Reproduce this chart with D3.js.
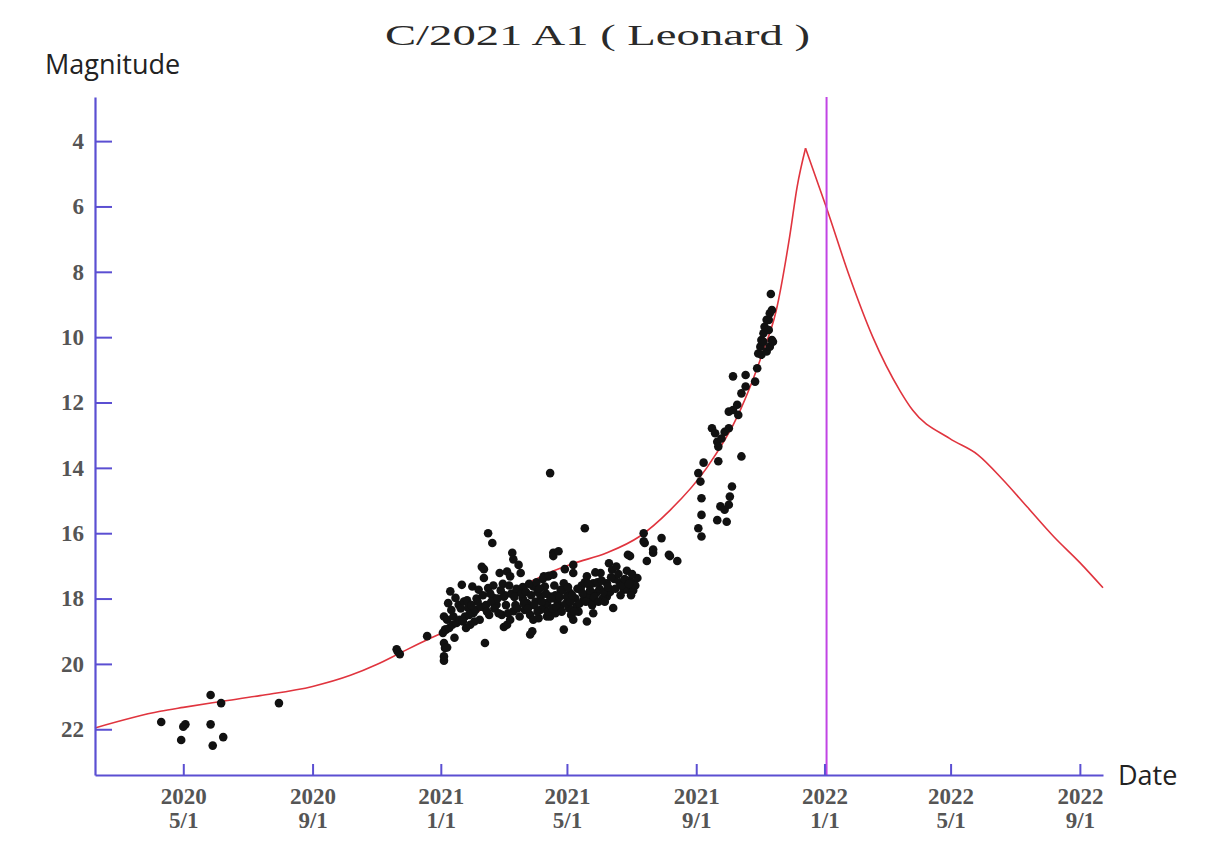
<!DOCTYPE html>
<html>
<head>
<meta charset="utf-8">
<script src="https://cdn.jsdelivr.net/npm/d3@7"></script>
<style>
  html, body { margin: 0; padding: 0; background: #fff; }
  svg { display: block; }
</style>
</head>
<body>
<svg id="chart" width="1225" height="854"></svg>
<script>
// ---------------- DATA ----------------
const titleText = "C/2021 A1 ( Leonard )";
const yLabel = "Magnitude";
const xLabel = "Date";

const yTicks = [4, 6, 8, 10, 12, 14, 16, 18, 20, 22];
const xTickDates = ["2020-05-01", "2020-09-01", "2021-01-01", "2021-05-01", "2021-09-01", "2022-01-01", "2022-05-01", "2022-09-01"];
const xTickYears = ["2020", "2020", "2021", "2021", "2021", "2022", "2022", "2022"];
const xTickDays = ["5/1", "9/1", "1/1", "5/1", "9/1", "1/1", "5/1", "9/1"];

const markerDate = "2022-01-03";

// predicted light curve
const curveDates = ["2020-02-07", "2020-04-09", "2020-05-01", "2020-06-06", "2020-07-13", "2020-09-01", "2020-10-07", "2020-11-01", "2020-11-23", "2020-12-19",
  "2021-01-01", "2021-02-26", "2021-04-15", "2021-05-07", "2021-06-08", "2021-07-09", "2021-08-07", "2021-09-11", "2021-10-12", "2021-11-03",
  "2021-11-16", "2021-11-29", "2021-12-06", "2021-12-14", "2022-01-03", "2022-01-25", "2022-02-16", "2022-03-14", "2022-03-26",
  "2022-04-30", "2022-05-27", "2022-06-20", "2022-07-13", "2022-08-07", "2022-09-01", "2022-09-23"];
const curveMags = [21.96, 21.45, 21.33, 21.15, 20.97, 20.69, 20.35, 20.02, 19.67, 19.26,
  19.07, 18.0, 17.2, 16.93, 16.6, 16.1, 15.3, 14.0, 12.3, 10.5,
  9.2, 6.9, 5.4, 4.22, 6.05, 8.16, 10.0, 11.65, 12.24,
  13.1, 13.6, 14.37, 15.2, 16.1, 16.9, 17.67];

// observations
const obsDates = [
  "2020-04-10", "2020-05-03", "2020-05-01", "2020-04-29", "2020-05-27", "2020-06-06", "2020-05-27", "2020-06-08", "2020-05-29", "2020-07-31",
  "2020-11-20", "2020-11-23", "2020-11-21", "2020-12-19",
  "2021-01-04", "2021-01-04", "2021-01-05", "2021-01-04", "2021-01-07", "2021-01-04", "2021-01-07", "2021-01-05", "2021-01-08", "2021-01-10",
  "2021-01-13", "2021-01-15", "2021-01-18", "2021-01-21", "2021-01-23", "2021-01-27", "2021-01-31", "2021-02-01", "2021-02-06", "2021-02-07",
  "2021-02-09", "2021-02-11", "2021-02-11", "2021-02-12", "2021-02-12", "2021-02-15", "2021-02-15", "2021-02-19", "2021-02-20", "2021-02-23",
  "2021-02-26", "2021-02-28", "2021-03-02", "2021-03-02", "2021-03-05", "2021-03-05", "2021-03-08", "2021-03-08", "2021-03-10", "2021-03-11",
  "2021-03-11", "2021-03-16", "2021-03-16", "2021-03-18", "2021-03-24", "2021-03-27", "2021-03-27", "2021-03-29", "2021-03-30", "2021-03-30",
  "2021-04-06", "2021-04-06", "2021-04-09", "2021-04-09", "2021-04-10", "2021-04-12", "2021-04-12", "2021-04-13", "2021-04-15", "2021-04-15",
  "2021-04-15", "2021-04-18", "2021-04-18", "2021-04-18", "2021-04-23", "2021-04-25", "2021-04-25", "2021-04-28", "2021-04-28", "2021-05-04",
  "2021-05-07", "2021-05-07", "2021-05-07", "2021-05-10", "2021-05-14", "2021-05-17", "2021-05-18", "2021-05-20", "2021-05-26", "2021-05-26",
  "2021-05-29", "2021-06-02", "2021-06-08", "2021-06-08", "2021-06-10", "2021-06-13", "2021-06-14", "2021-06-17", "2021-06-24", "2021-06-27",
  "2021-06-28", "2021-06-28", "2021-06-30", "2021-06-30", "2021-07-03", "2021-07-03", "2021-07-07", "2021-07-13", "2021-07-13", "2021-07-14",
  "2021-07-16", "2021-07-22", "2021-07-22", "2021-07-30", "2021-08-06", "2021-08-07", "2021-08-14",
  "2021-09-03", "2021-09-06", "2021-09-06", "2021-09-06", "2021-09-03", "2021-09-05", "2021-09-08", "2021-09-16", "2021-09-19", "2021-09-21",
  "2021-09-21", "2021-09-22", "2021-09-22", "2021-09-24", "2021-09-25", "2021-09-28", "2021-09-28", "2021-09-30", "2021-10-02", "2021-10-02",
  "2021-10-02", "2021-10-03", "2021-10-05", "2021-10-06", "2021-10-06", "2021-10-10", "2021-10-11", "2021-10-14", "2021-10-14", "2021-10-18",
  "2021-10-18", "2021-10-27", "2021-10-29", "2021-10-30", "2021-11-01", "2021-11-02", "2021-11-02", "2021-11-04", "2021-11-04", "2021-11-05",
  "2021-11-07", "2021-11-07", "2021-11-09", "2021-11-09", "2021-11-10", "2021-11-10", "2021-11-12", "2021-11-12", "2021-11-13", "2021-11-11",
  "2021-01-03", "2021-01-06", "2021-01-09", "2021-01-12", "2021-01-16", "2021-01-19", "2021-01-24", "2021-01-28", "2021-02-03", "2021-02-08",
  "2021-02-13", "2021-02-18", "2021-02-24", "2021-03-03", "2021-03-09", "2021-03-14", "2021-03-20", "2021-03-26", "2021-04-02", "2021-04-08",
  "2021-04-14",
  "2021-01-20", "2021-02-04", "2021-03-01", "2021-02-20", "2021-03-20", "2021-04-01", "2021-04-03", "2021-04-20", "2021-04-22", "2021-05-01",
  "2021-05-03", "2021-05-09", "2021-05-12", "2021-05-15", "2021-05-22", "2021-05-24", "2021-06-01", "2021-06-04", "2021-06-11", "2021-06-20",
  "2021-06-21", "2021-07-01", "2021-07-05", "2021-06-15", "2021-05-28", "2021-05-18", "2021-04-29",
  "2021-01-14", "2021-01-25", "2021-02-02", "2021-02-16", "2021-03-13", "2021-03-22", "2021-04-04", "2021-04-20", "2021-05-05", "2021-05-20",
  "2021-02-05", "2021-02-10", "2021-02-14", "2021-02-17", "2021-02-21", "2021-02-25", "2021-02-27",
  "2021-03-04", "2021-03-06", "2021-03-07", "2021-03-12", "2021-03-15", "2021-03-17", "2021-03-19", "2021-03-21", "2021-03-23", "2021-03-25",
  "2021-03-28", "2021-03-31",
  "2021-04-03", "2021-04-05", "2021-04-07", "2021-04-11", "2021-04-13", "2021-04-16", "2021-04-17", "2021-04-19", "2021-04-21", "2021-04-24",
  "2021-04-26", "2021-04-27", "2021-04-30",
  "2021-05-02", "2021-05-04", "2021-05-06", "2021-05-08", "2021-05-11", "2021-05-13", "2021-05-16", "2021-05-19", "2021-05-21", "2021-05-23",
  "2021-05-25", "2021-05-27", "2021-05-30", "2021-05-31",
  "2021-06-03", "2021-06-05", "2021-06-06", "2021-06-09", "2021-06-12", "2021-06-16", "2021-06-19", "2021-06-22", "2021-06-25", "2021-06-29",
  "2021-07-02",
  "2021-01-11", "2021-01-22", "2021-01-26", "2021-01-29", "2021-01-30"
];
const obsMags = [
  21.78, 21.85, 21.92, 22.33, 20.95, 21.2, 21.85, 22.24, 22.5, 21.2,
  19.55, 19.7, 19.62, 19.15,
  19.9, 19.36, 19.51, 19.77, 19.5, 18.55, 18.65, 18.95, 18.14, 17.78,
  18.55, 17.98, 18.19, 17.58, 18.09, 18.29, 17.63, 18.44, 17.73, 18.65,
  17.03, 17.37, 17.1, 18.29, 19.36, 16.0, 17.68, 16.3, 17.98, 18.19,
  17.22, 18.5, 17.94, 18.87, 17.17, 18.8, 17.32, 18.65, 16.6, 16.8,
  18.39, 16.97, 17.78, 17.22, 18.14, 18.5, 19.1, 19.0, 18.65, 17.63,
  17.94, 18.34, 18.29, 17.32, 17.63, 18.55, 18.14, 17.32, 14.16, 17.94,
  18.55, 16.6, 16.7, 17.27, 16.55, 17.73, 18.24, 17.53, 18.95, 17.83,
  16.97, 17.22, 18.65, 18.24, 17.73, 18.04, 15.85, 17.32, 17.53, 18.45,
  17.83, 17.22, 17.53, 17.94, 16.92, 17.12, 18.29, 17.02, 17.73, 17.15,
  16.66, 17.73, 16.7, 17.45, 17.52, 17.75, 17.37, 16.0, 16.25, 16.3,
  16.85, 16.6, 16.5, 16.15, 16.66, 16.7, 16.85,
  15.85, 16.1, 15.44, 14.93, 14.16, 14.42, 13.84, 12.79, 12.94, 13.2,
  15.6, 13.8, 13.35, 15.18, 13.1, 12.9, 15.28, 15.65, 12.79, 12.28,
  15.13, 14.88, 14.57, 12.23, 11.2, 12.07, 12.38, 11.72, 13.65, 11.51,
  11.16, 11.36, 10.95, 10.5, 10.29, 10.09, 10.54, 9.88, 10.14, 9.68,
  9.47, 10.44, 9.47, 9.78, 9.27, 10.29, 9.17, 10.09, 10.14, 8.68,
  19.05, 18.95, 18.9, 18.8, 18.75, 18.65, 18.55, 18.5, 18.35, 18.25,
  18.2, 18.1, 18.0, 17.9, 17.85, 17.7, 17.65, 17.55, 17.5, 17.4,
  17.3,
  18.3, 18.0, 17.55, 17.6, 18.0, 18.1, 17.8, 17.9, 18.1, 17.95,
  18.3, 18.0, 18.4, 17.6, 17.9, 18.1, 17.7, 18.0, 17.8, 17.5,
  17.9, 17.9, 17.6, 17.4, 17.2, 17.5, 17.1,
  19.2, 18.9, 18.7, 18.5, 18.2, 18.35, 18.6, 18.45, 18.5, 18.7,
  18.1, 17.9, 18.4, 17.85, 18.3, 18.45, 17.75,
  18.2, 18.45, 17.6, 17.95, 18.3, 18.55, 17.85, 18.15, 17.8, 18.3,
  17.9, 18.2,
  18.4, 17.7, 18.1, 17.85, 18.4, 18.0, 18.3, 17.6, 18.25, 17.95,
  18.4, 17.75, 18.15,
  17.65, 18.1, 17.9, 18.4, 17.7, 18.15, 17.85, 18.1, 17.55, 17.75,
  18.2, 17.95, 17.5, 18.1,
  17.45, 17.8, 18.1, 17.65, 17.35, 17.7, 17.25, 17.6, 17.4, 17.55,
  17.25,
  18.35, 18.7, 18.05, 18.8, 18.2
];

// ---------------- DRAW ----------------
const parse = d3.utcParse("%Y-%m-%d");
const svg = d3.select("#chart");

const x = d3.scaleUtc()
  .domain([parse("2020-02-07"), parse("2022-09-23")])
  .range([95, 1103]);
const y = d3.scaleLinear()
  .domain([2.65, 23.4])
  .range([97, 775]);

const axisColor = "#5b4fd2";

// title
svg.append("text")
  .attr("x", 385).attr("y", 45)
  .attr("textLength", 425).attr("lengthAdjust", "spacingAndGlyphs")
  .style("font-family", "'Liberation Serif', 'DejaVu Serif', serif")
  .style("font-size", "30px")
  .style("fill", "#2a2a2a")
  .text(titleText);

svg.append("text")
  .attr("x", 45).attr("y", 74)
  .style("font-family", "'Open Sans', sans-serif")
  .style("font-size", "27px")
  .style("fill", "#222")
  .text(yLabel);

svg.append("text")
  .attr("x", 1118).attr("y", 785)
  .style("font-family", "'Open Sans', sans-serif")
  .style("font-size", "27px")
  .style("fill", "#222")
  .text(xLabel);

// predicted curve: drawn as rising and fading branches sharing the peak point
const curvePts = curveDates.map((d, i) => [parse(d), curveMags[i]]);
const peakIdx = d3.minIndex(curveMags);
const lineGen = d3.line().x(d => x(d[0])).y(d => y(d[1])).curve(d3.curveMonotoneX);
[curvePts.slice(0, peakIdx + 1), curvePts.slice(peakIdx)].forEach(seg => {
  svg.append("path")
    .datum(seg)
    .attr("fill", "none")
    .attr("stroke", "#e0343e")
    .attr("stroke-width", 1.6)
    .attr("stroke-linejoin", "miter")
    .attr("d", lineGen);
});

// observations
const obs = obsDates.map((d, i) => [parse(d), obsMags[i]]);
svg.append("g")
  .selectAll("circle")
  .data(obs)
  .join("circle")
  .attr("cx", d => x(d[0]))
  .attr("cy", d => y(d[1]))
  .attr("r", 4.3)
  .attr("fill", "#111");

// current-date marker
svg.append("line")
  .attr("x1", x(parse(markerDate))).attr("x2", x(parse(markerDate)))
  .attr("y1", y.range()[0]).attr("y2", y.range()[1])
  .attr("stroke", "#c145e4")
  .attr("stroke-width", 2);

// axes
const tickFont = "'Liberation Serif', 'DejaVu Serif', serif";

const yAxis = svg.append("g")
  .attr("transform", "translate(95,0)")
  .call(d3.axisLeft(y).tickValues(yTicks).tickSizeInner(-17).tickSizeOuter(0).tickPadding(11).tickFormat(d3.format("d")));

const xAxis = svg.append("g")
  .attr("transform", "translate(0,775)")
  .call(d3.axisBottom(x).tickValues(xTickDates.map(parse)).tickSizeInner(-11).tickSizeOuter(0).tickFormat(() => ""));

[yAxis, xAxis].forEach(g => {
  g.select(".domain").attr("stroke", axisColor).attr("stroke-width", 2.2);
  g.selectAll(".tick line").attr("stroke", axisColor).attr("stroke-width", 2);
  g.selectAll(".tick text")
    .style("font-family", tickFont)
    .style("font-size", "23px")
    .style("font-weight", "bold")
    .attr("fill", "#555");
});

xAxis.selectAll(".tick text").each(function (d, i) {
  const t = d3.select(this).attr("dy", null).attr("y", null);
  t.append("tspan").attr("x", 0).attr("y", 29).text(xTickYears[i]);
  t.append("tspan").attr("x", 0).attr("y", 53).text(xTickDays[i]);
});
</script>
</body>
</html>
